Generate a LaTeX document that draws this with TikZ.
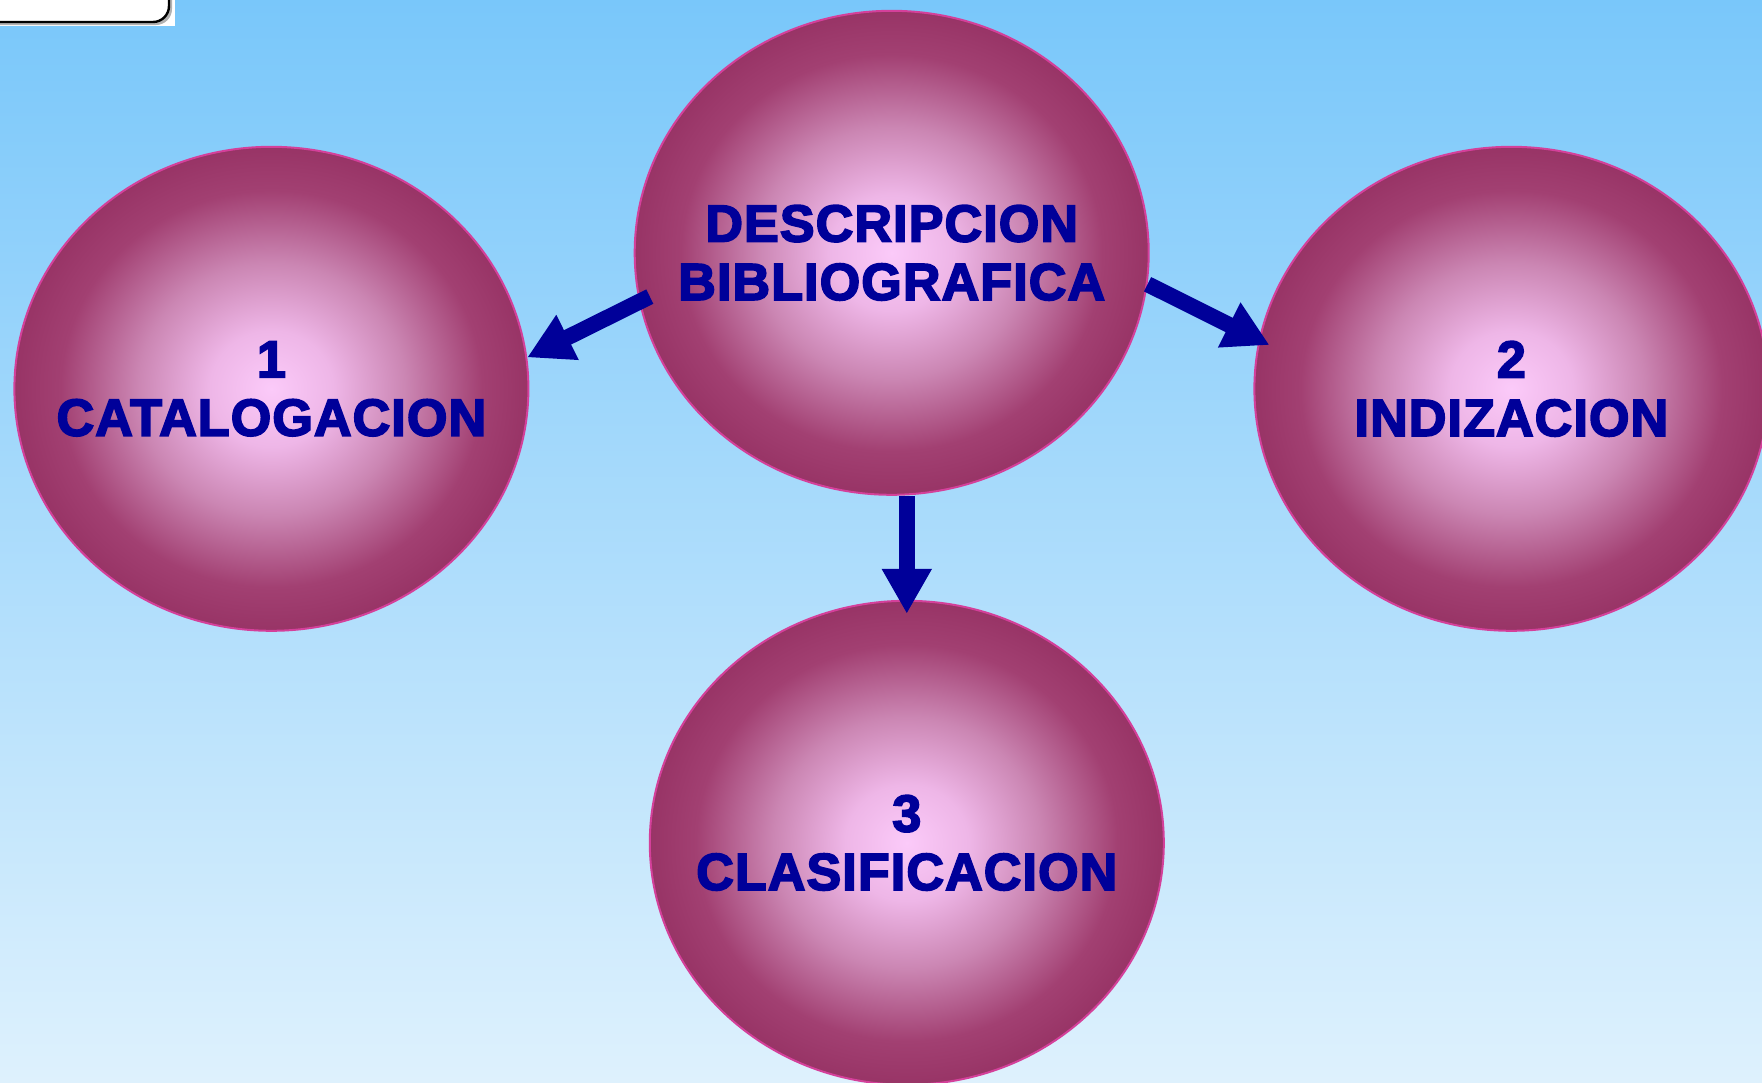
\documentclass[tikz,border=0pt]{standalone}
\usepackage{fontspec}
\setmainfont{Liberation Sans}
\newfontfamily\blk[FakeBold=3.4,LetterSpace=2.2]{Liberation Sans Bold}
\usetikzlibrary{shapes.geometric,arrows.meta}
\definecolor{bgtop}{RGB}{121,199,250}
\definecolor{bgbot}{RGB}{222,241,253}
\definecolor{pkC}{RGB}{251,202,249}
\definecolor{pkA}{RGB}{238,182,231}
\definecolor{pkM}{RGB}{203,134,179}
\definecolor{pkD}{RGB}{162,64,114}
\definecolor{pkE}{RGB}{152,52,102}
\definecolor{pkBorder}{RGB}{212,64,154}
\definecolor{navy}{RGB}{0,0,153}
\pgfdeclareradialshading{pinkball}{\pgfpoint{0bp}{0bp}}{color(0bp)=(pkC); color(6bp)=(pkA); color(13bp)=(pkM); color(20.5bp)=(pkD); color(25bp)=(pkE); color(50bp)=(pkE)}
\tikzset{
  ball/.style={ellipse, shading=pinkball, draw=pkBorder, line width=1pt,
    minimum width=257pt, minimum height=242pt, inner sep=0pt},
  balltext/.style={text=navy, align=center, inner sep=0pt,
    font=\blk\fontsize{26}{29.2}\selectfont},
  bigarrow/.style={draw=navy, line width=8pt,
    -{Triangle[width=23.5pt,length=22.5pt]}}
}
\begin{document}
\begin{tikzpicture}[x=0.5pt,y=-0.5pt]
\useasboundingbox (0,0) rectangle (1762,1082);
\clip (0,0) rectangle (1762,1082);
\shade[top color=bgtop, bottom color=bgbot] (0,0) rectangle (1762,1082);
% top-left clipped label box
\fill[white] (0,0) rectangle (175,26);
\fill[gray!60] (-20,-30) [rounded corners=8] rectangle (172,25);
\draw[black, line width=1.2pt, fill=white, rounded corners=8] (-20,-30) rectangle (169,22);
% balls
\node[ball] (c) at (891.7,252.8) {};
\node[ball] (l) at (271.4,388.8) {};
\node[ball] (r) at (1511.4,388.8) {};
\node[ball] (b) at (906.8,842.8) {};
\node[balltext] (ct) at (c) {DESCRIPCION\\BIBLIOGRAFICA};
\node[balltext] (lt) at (l) {1\\CATALOGACION};
\node[balltext] (rt) at (r) {2\\INDIZACION};
\node[balltext] (bt) at (b) {3\\CLASIFICACION};
% arrows
\draw[bigarrow, shorten <=-6pt] (c.191) -- (l.7);
\draw[bigarrow, shorten >=-6pt] (c.-7) -- (r.169);
\draw[bigarrow, shorten >=-7pt] (c.south -| b.north) -- (b.north);
\end{tikzpicture}
\end{document}
